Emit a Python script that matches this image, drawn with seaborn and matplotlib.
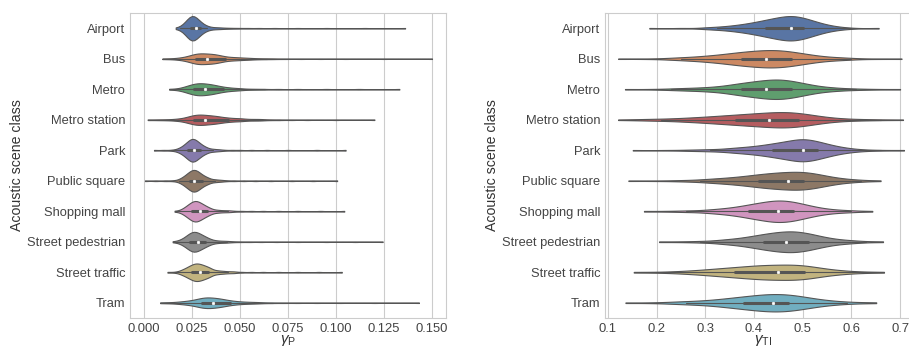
import numpy as np
import pandas as pd
import matplotlib
matplotlib.use("Agg")
import matplotlib.pyplot as plt
import seaborn as sns

categories = ["Airport", "Bus", "Metro", "Metro station", "Park", "Public square",
              "Shopping mall", "Street pedestrian", "Street traffic", "Tram"]

# ---- gamma_P: observed values and the number of clips at each value ----
gp_airport_vals = [0.0165, 0.019, 0.021, 0.023, 0.025, 0.027, 0.029, 0.031, 0.033, 0.036,
                   0.039, 0.042, 0.045, 0.049, 0.054, 0.060, 0.068, 0.080, 0.095, 0.115, 0.136]
gp_airport_counts = [1, 2, 6, 14, 22, 16, 9, 5, 3, 2, 2, 1, 1, 1, 1, 1, 1, 1, 1, 1, 1]

gp_bus_vals = [0.0096, 0.014, 0.018, 0.021, 0.024, 0.027, 0.030, 0.033, 0.036, 0.039,
               0.042, 0.045, 0.048, 0.051, 0.054, 0.057, 0.060, 0.064, 0.068, 0.074,
               0.082, 0.092, 0.105, 0.125, 0.150]
gp_bus_counts = [1, 1, 2, 3, 6, 10, 10, 9, 9, 7, 4, 3, 3, 2, 2, 1, 1, 1, 1, 1,
                 1, 1, 1, 1, 1]

gp_metro_vals = [0.0131, 0.017, 0.020, 0.023, 0.026, 0.029, 0.032, 0.035, 0.038, 0.041,
                 0.044, 0.047, 0.050, 0.054, 0.058, 0.063, 0.070, 0.080, 0.095, 0.112, 0.133]
gp_metro_counts = [1, 1, 3, 6, 9, 10, 9, 8, 6, 4, 3, 2, 2, 1, 1, 1, 1, 1, 1, 1, 1]

gp_station_vals = [0.0019, 0.007, 0.011, 0.014, 0.017, 0.020, 0.023, 0.026, 0.029, 0.032,
                   0.035, 0.038, 0.041, 0.044, 0.047, 0.050, 0.053, 0.057, 0.061, 0.066,
                   0.071, 0.077, 0.085, 0.100, 0.120]
gp_station_counts = [1, 1, 1, 1, 2, 3, 6, 9, 10, 9, 8, 7, 5, 4, 3, 3, 2, 2, 2, 1,
                     1, 1, 1, 1, 1]

gp_park_vals = [0.0052, 0.010, 0.014, 0.017, 0.019, 0.021, 0.023, 0.025, 0.027, 0.029,
                0.031, 0.033, 0.036, 0.039, 0.042, 0.046, 0.050, 0.056, 0.064, 0.075,
                0.090, 0.105]
gp_park_counts = [1, 1, 1, 2, 4, 8, 13, 18, 15, 10, 6, 4, 3, 2, 1, 1, 1, 1, 1, 1, 1, 1]

gp_square_vals = [0.0005, 0.006, 0.011, 0.015, 0.018, 0.020, 0.022, 0.024, 0.026, 0.028,
                  0.030, 0.032, 0.034, 0.037, 0.040, 0.043, 0.047, 0.052, 0.058, 0.066,
                  0.077, 0.088, 0.1006]
gp_square_counts = [1, 1, 1, 1, 2, 5, 9, 14, 17, 14, 9, 6, 4, 3, 2, 1, 1, 1, 1, 1,
                    1, 1, 1]

gp_mall_vals = [0.0159, 0.019, 0.021, 0.023, 0.025, 0.027, 0.029, 0.031, 0.033, 0.035,
                0.038, 0.041, 0.044, 0.047, 0.051, 0.056, 0.062, 0.070, 0.080, 0.092, 0.1043]
gp_mall_counts = [1, 2, 5, 9, 13, 15, 12, 9, 6, 4, 3, 2, 2, 1, 1, 1, 1, 1, 1, 1, 1]

gp_pedestrian_vals = [0.0149, 0.018, 0.020, 0.022, 0.024, 0.026, 0.028, 0.030, 0.032, 0.034,
                      0.037, 0.040, 0.043, 0.046, 0.050, 0.055, 0.061, 0.069, 0.080, 0.095,
                      0.110, 0.1243]
gp_pedestrian_counts = [1, 2, 4, 8, 13, 16, 13, 10, 7, 5, 3, 2, 2, 1, 1, 1, 1, 1, 1, 1,
                        1, 1]

gp_traffic_vals = [0.0122, 0.016, 0.019, 0.021, 0.023, 0.025, 0.027, 0.029, 0.031, 0.033,
                   0.035, 0.038, 0.041, 0.044, 0.047, 0.051, 0.056, 0.062, 0.070, 0.080,
                   0.091, 0.103]
gp_traffic_counts = [1, 1, 3, 5, 8, 11, 13, 12, 10, 8, 6, 4, 3, 2, 2, 1, 1, 1, 1, 1, 1, 1]

gp_tram_vals = [0.0084, 0.012, 0.015, 0.018, 0.021, 0.024, 0.027, 0.030, 0.033, 0.036,
                0.039, 0.042, 0.045, 0.048, 0.051, 0.054, 0.058, 0.062, 0.067, 0.073,
                0.080, 0.090, 0.102, 0.120, 0.1432]
gp_tram_counts = [1, 1, 1, 2, 3, 4, 6, 9, 10, 9, 8, 6, 4, 3, 2, 2, 2, 1, 1, 1,
                  1, 1, 1, 1, 1]

# ---- gamma_TI: observed values and the number of clips at each value ----
gti_airport_vals = [0.185, 0.25, 0.30, 0.325, 0.35, 0.375, 0.40, 0.425, 0.45, 0.475,
                    0.50, 0.525, 0.55, 0.575, 0.60, 0.656]
gti_airport_counts = [1, 1, 2, 3, 5, 8, 12, 17, 22, 26, 22, 14, 7, 3, 1, 1]

gti_bus_vals = [0.121, 0.18, 0.225, 0.25, 0.275, 0.30, 0.325, 0.35, 0.375, 0.40,
                0.425, 0.45, 0.475, 0.50, 0.525, 0.55, 0.575, 0.60, 0.65, 0.703]
gti_bus_counts = [1, 1, 2, 3, 4, 6, 8, 11, 14, 16, 18, 18, 15, 11, 7, 4, 3, 2, 1, 1]

gti_metro_vals = [0.135, 0.19, 0.23, 0.26, 0.29, 0.32, 0.35, 0.375, 0.40, 0.425,
                  0.45, 0.475, 0.50, 0.525, 0.55, 0.575, 0.61, 0.65, 0.70]
gti_metro_counts = [1, 1, 2, 3, 4, 6, 9, 12, 15, 18, 20, 17, 12, 7, 4, 3, 2, 1, 1]

gti_station_vals = [0.121, 0.17, 0.21, 0.25, 0.28, 0.31, 0.34, 0.37, 0.40, 0.43,
                    0.46, 0.49, 0.52, 0.55, 0.58, 0.62, 0.66, 0.706]
gti_station_counts = [1, 2, 3, 4, 5, 7, 9, 11, 13, 15, 17, 15, 10, 5, 3, 2, 1, 1]

gti_park_vals = [0.151, 0.22, 0.27, 0.31, 0.35, 0.38, 0.41, 0.44, 0.47, 0.50,
                 0.53, 0.56, 0.59, 0.62, 0.66, 0.708]
gti_park_counts = [1, 1, 2, 3, 5, 7, 10, 15, 20, 27, 20, 11, 5, 2, 1, 1]

gti_square_vals = [0.142, 0.20, 0.25, 0.29, 0.32, 0.35, 0.38, 0.41, 0.44, 0.47,
                   0.50, 0.53, 0.56, 0.59, 0.62, 0.66]
gti_square_counts = [1, 1, 2, 3, 5, 7, 10, 14, 17, 19, 20, 15, 8, 4, 2, 1]

gti_mall_vals = [0.174, 0.22, 0.26, 0.30, 0.33, 0.36, 0.39, 0.42, 0.45, 0.48,
                 0.51, 0.54, 0.57, 0.60, 0.643]
gti_mall_counts = [1, 1, 2, 3, 5, 8, 13, 18, 22, 19, 12, 6, 3, 2, 1]

gti_pedestrian_vals = [0.205, 0.25, 0.29, 0.33, 0.36, 0.39, 0.42, 0.45, 0.48, 0.51,
                       0.54, 0.57, 0.60, 0.63, 0.665]
gti_pedestrian_counts = [1, 1, 2, 4, 6, 10, 15, 19, 21, 17, 10, 5, 3, 1, 1]

gti_traffic_vals = [0.153, 0.20, 0.24, 0.27, 0.30, 0.33, 0.36, 0.39, 0.42, 0.45,
                    0.48, 0.51, 0.54, 0.57, 0.60, 0.63, 0.667]
gti_traffic_counts = [1, 1, 2, 3, 5, 7, 9, 11, 13, 13, 14, 12, 7, 4, 2, 1, 1]

gti_tram_vals = [0.136, 0.19, 0.23, 0.26, 0.29, 0.32, 0.35, 0.38, 0.41, 0.44,
                 0.47, 0.50, 0.53, 0.56, 0.59, 0.62, 0.651]
gti_tram_counts = [1, 1, 2, 3, 4, 6, 9, 12, 15, 17, 16, 12, 7, 4, 2, 1, 1]

gp_ticks = [0.000, 0.025, 0.050, 0.075, 0.100, 0.125, 0.150]
gti_ticks = [0.1, 0.2, 0.3, 0.4, 0.5, 0.6, 0.7]

gp_vals = [gp_airport_vals, gp_bus_vals, gp_metro_vals, gp_station_vals, gp_park_vals,
           gp_square_vals, gp_mall_vals, gp_pedestrian_vals, gp_traffic_vals, gp_tram_vals]
gp_counts = [gp_airport_counts, gp_bus_counts, gp_metro_counts, gp_station_counts,
             gp_park_counts, gp_square_counts, gp_mall_counts, gp_pedestrian_counts,
             gp_traffic_counts, gp_tram_counts]
gti_vals = [gti_airport_vals, gti_bus_vals, gti_metro_vals, gti_station_vals, gti_park_vals,
            gti_square_vals, gti_mall_vals, gti_pedestrian_vals, gti_traffic_vals, gti_tram_vals]
gti_counts = [gti_airport_counts, gti_bus_counts, gti_metro_counts, gti_station_counts,
              gti_park_counts, gti_square_counts, gti_mall_counts, gti_pedestrian_counts,
              gti_traffic_counts, gti_tram_counts]


def to_frame(vals_list, counts_list):
    parts = []
    for cat, v, c in zip(categories, vals_list, counts_list):
        parts.append(pd.DataFrame({"scene": cat, "value": np.repeat(v, c)}))
    return pd.concat(parts, ignore_index=True)


df_gp = to_frame(gp_vals, gp_counts)
df_gti = to_frame(gti_vals, gti_counts)

sns.set_style("whitegrid")
plt.rcParams["font.family"] = ["Liberation Sans", "DejaVu Sans"]
plt.rcParams["mathtext.fontset"] = "custom"
plt.rcParams["mathtext.rm"] = "Liberation Sans"
plt.rcParams["mathtext.it"] = "Liberation Sans:italic"

W, H = 909, 349
fig = plt.figure(figsize=(W / 100, H / 100), dpi=100)
ax1 = fig.add_axes([130 / W, 1 - 318 / H, 316 / W, 305 / H])
ax2 = fig.add_axes([605 / W, 1 - 318 / H, 316 / W, 305 / H])

panels = [
    (ax1, df_gp, 0.3, (-0.0073, 0.1573), gp_ticks, "{:.3f}", r"$\gamma_{\mathrm{P}}$"),
    (ax2, df_gti, 0.7, (0.094, 0.743), gti_ticks, "{:.1f}", r"$\gamma_{\mathrm{TI}}$"),
]

for ax, df, bw, xlim, ticks, fmt, xlabel in panels:
    sns.violinplot(data=df, x="value", y="scene", hue="scene", order=categories,
                   hue_order=categories, palette="deep", legend=False, orient="h",
                   linewidth=0.8, linecolor="#555555", bw_adjust=bw, cut=0,
                   common_norm=True, inner="box",
                   inner_kws=dict(box_width=2.2, whis_width=0.8, marker="o"), ax=ax)
    ax.set_xlim(*xlim)
    ax.set_ylim(9.5, -0.5)
    ax.set_xticks(ticks)
    ax.set_xticklabels([fmt.format(t) for t in ticks])
    ax.tick_params(axis="both", length=0, pad=3.5, colors="#444444")
    ax.tick_params(axis="x", labelsize=9.4)
    ax.tick_params(axis="y", labelsize=9.3)
    ax.set_xlabel(xlabel, fontsize=11, color="#333333", labelpad=-1)
    ax.set_ylabel("Acoustic scene class", fontsize=10.2, color="#333333", labelpad=2)

fig.savefig("out.png", dpi=100)
